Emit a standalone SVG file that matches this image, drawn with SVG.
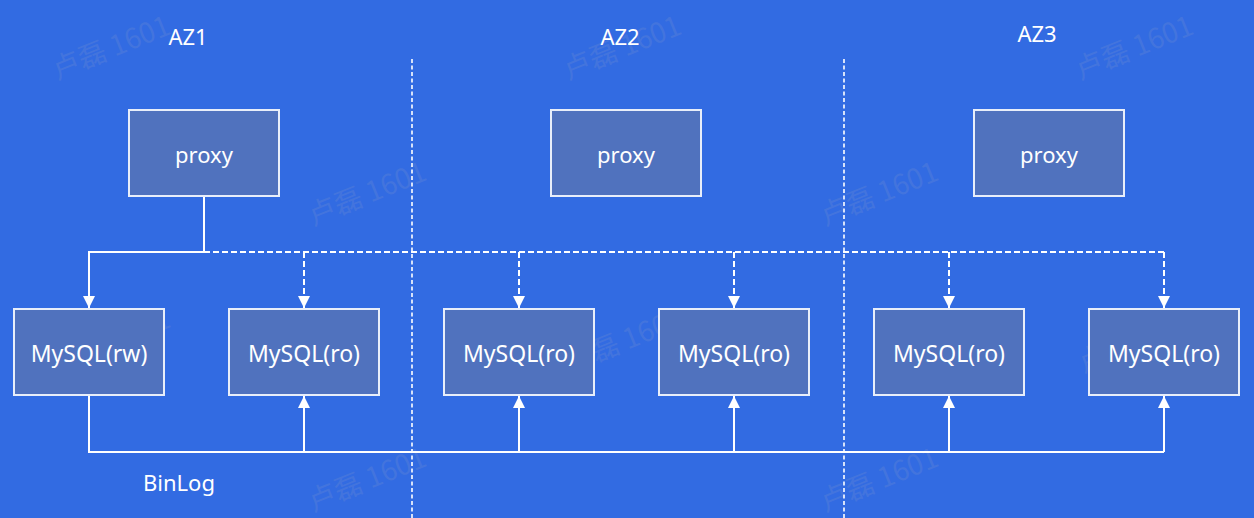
<svg xmlns="http://www.w3.org/2000/svg" width="1254" height="518" viewBox="0 0 1254 518">
<defs>
<style>
.bg{fill:#326BE2}
.box{fill:#5072BE;stroke:#E8EEFA;stroke-width:2}
.lbl{font-family:"Noto Sans","DejaVu Sans",sans-serif;fill:#FFFFFF;text-anchor:middle}
.az{font-size:22px}
.px{font-size:22px}
.db{font-size:23px}
.sep{stroke:#FFFFFF;stroke-width:1.6;stroke-dasharray:4 2.5;fill:none}
.solid{stroke:#FFFFFF;stroke-width:2;fill:none}
.dash{stroke:#FFFFFF;stroke-width:2;stroke-dasharray:6 3;fill:none}
.wm{font-family:"Noto Sans CJK SC","Noto Sans",sans-serif;font-size:28px;fill:#9AA6C8;opacity:0.16}
</style>
<marker id="arr" viewBox="0 0 12 12" refX="12" refY="6" markerWidth="12" markerHeight="12" markerUnits="userSpaceOnUse" orient="auto">
<path d="M0,0 L12,6 L0,12 z" fill="#FFFFFF"/>
</marker>
</defs>
<rect class="bg" x="0" y="0" width="1254" height="518"/>

<g id="watermarks">
<text class="wm" transform="translate(57,80) rotate(-22)">卢磊 1601</text>
<text class="wm" transform="translate(568,80) rotate(-22)">卢磊 1601</text>
<text class="wm" transform="translate(1080,80) rotate(-22)">卢磊 1601</text>
<text class="wm" transform="translate(313,226) rotate(-22)">卢磊 1601</text>
<text class="wm" transform="translate(825,226) rotate(-22)">卢磊 1601</text>
<text class="wm" transform="translate(57,373) rotate(-22)">卢磊 1601</text>
<text class="wm" transform="translate(570,373) rotate(-22)">卢磊 1601</text>
<text class="wm" transform="translate(1083,373) rotate(-22)">卢磊 1601</text>
<text class="wm" transform="translate(313,512) rotate(-22)">卢磊 1601</text>
<text class="wm" transform="translate(825,512) rotate(-22)">卢磊 1601</text>
</g>

<g id="separators">
<line class="sep" x1="412" y1="59" x2="412" y2="518"/>
<line class="sep" x1="844" y1="59" x2="844" y2="518"/>
</g>

<g id="zone-labels">
<text class="lbl az" x="188" y="45">AZ1</text>
<text class="lbl az" x="620" y="45">AZ2</text>
<text class="lbl az" x="1037" y="42">AZ3</text>
</g>

<g id="connectors">
<polyline class="solid" points="204,196 204,252 89,252 89,308" marker-end="url(#arr)"/>
<line class="dash" x1="204" y1="252" x2="1164" y2="252"/>
<line class="dash" x1="304" y1="252" x2="304" y2="308" marker-end="url(#arr)"/>
<line class="dash" x1="519" y1="252" x2="519" y2="308" marker-end="url(#arr)"/>
<line class="dash" x1="734" y1="252" x2="734" y2="308" marker-end="url(#arr)"/>
<line class="dash" x1="949" y1="252" x2="949" y2="308" marker-end="url(#arr)"/>
<line class="dash" x1="1164" y1="252" x2="1164" y2="308" marker-end="url(#arr)"/>
<polyline class="solid" points="89,396 89,452 1164,452"/>
<line class="solid" x1="304" y1="452" x2="304" y2="396" marker-end="url(#arr)"/>
<line class="solid" x1="519" y1="452" x2="519" y2="396" marker-end="url(#arr)"/>
<line class="solid" x1="734" y1="452" x2="734" y2="396" marker-end="url(#arr)"/>
<line class="solid" x1="949" y1="452" x2="949" y2="396" marker-end="url(#arr)"/>
<line class="solid" x1="1164" y1="452" x2="1164" y2="396" marker-end="url(#arr)"/>
<text class="lbl az" x="179" y="491">BinLog</text>
</g>

<g id="proxy1"><rect class="box" x="129" y="110" width="150" height="86"/><text class="lbl px" x="204" y="163">proxy</text></g>
<g id="proxy2"><rect class="box" x="551" y="110" width="150" height="86"/><text class="lbl px" x="626" y="163">proxy</text></g>
<g id="proxy3"><rect class="box" x="974" y="110" width="150" height="86"/><text class="lbl px" x="1049" y="163">proxy</text></g>

<g id="mysql-rw"><rect class="box" x="14" y="309" width="150" height="86"/><text class="lbl db" x="89" y="362">MySQL(rw)</text></g>
<g id="mysql-ro1"><rect class="box" x="229" y="309" width="150" height="86"/><text class="lbl db" x="304" y="362">MySQL(ro)</text></g>
<g id="mysql-ro2"><rect class="box" x="444" y="309" width="150" height="86"/><text class="lbl db" x="519" y="362">MySQL(ro)</text></g>
<g id="mysql-ro3"><rect class="box" x="659" y="309" width="150" height="86"/><text class="lbl db" x="734" y="362">MySQL(ro)</text></g>
<g id="mysql-ro4"><rect class="box" x="874" y="309" width="150" height="86"/><text class="lbl db" x="949" y="362">MySQL(ro)</text></g>
<g id="mysql-ro5"><rect class="box" x="1089" y="309" width="150" height="86"/><text class="lbl db" x="1164" y="362">MySQL(ro)</text></g>
</svg>
